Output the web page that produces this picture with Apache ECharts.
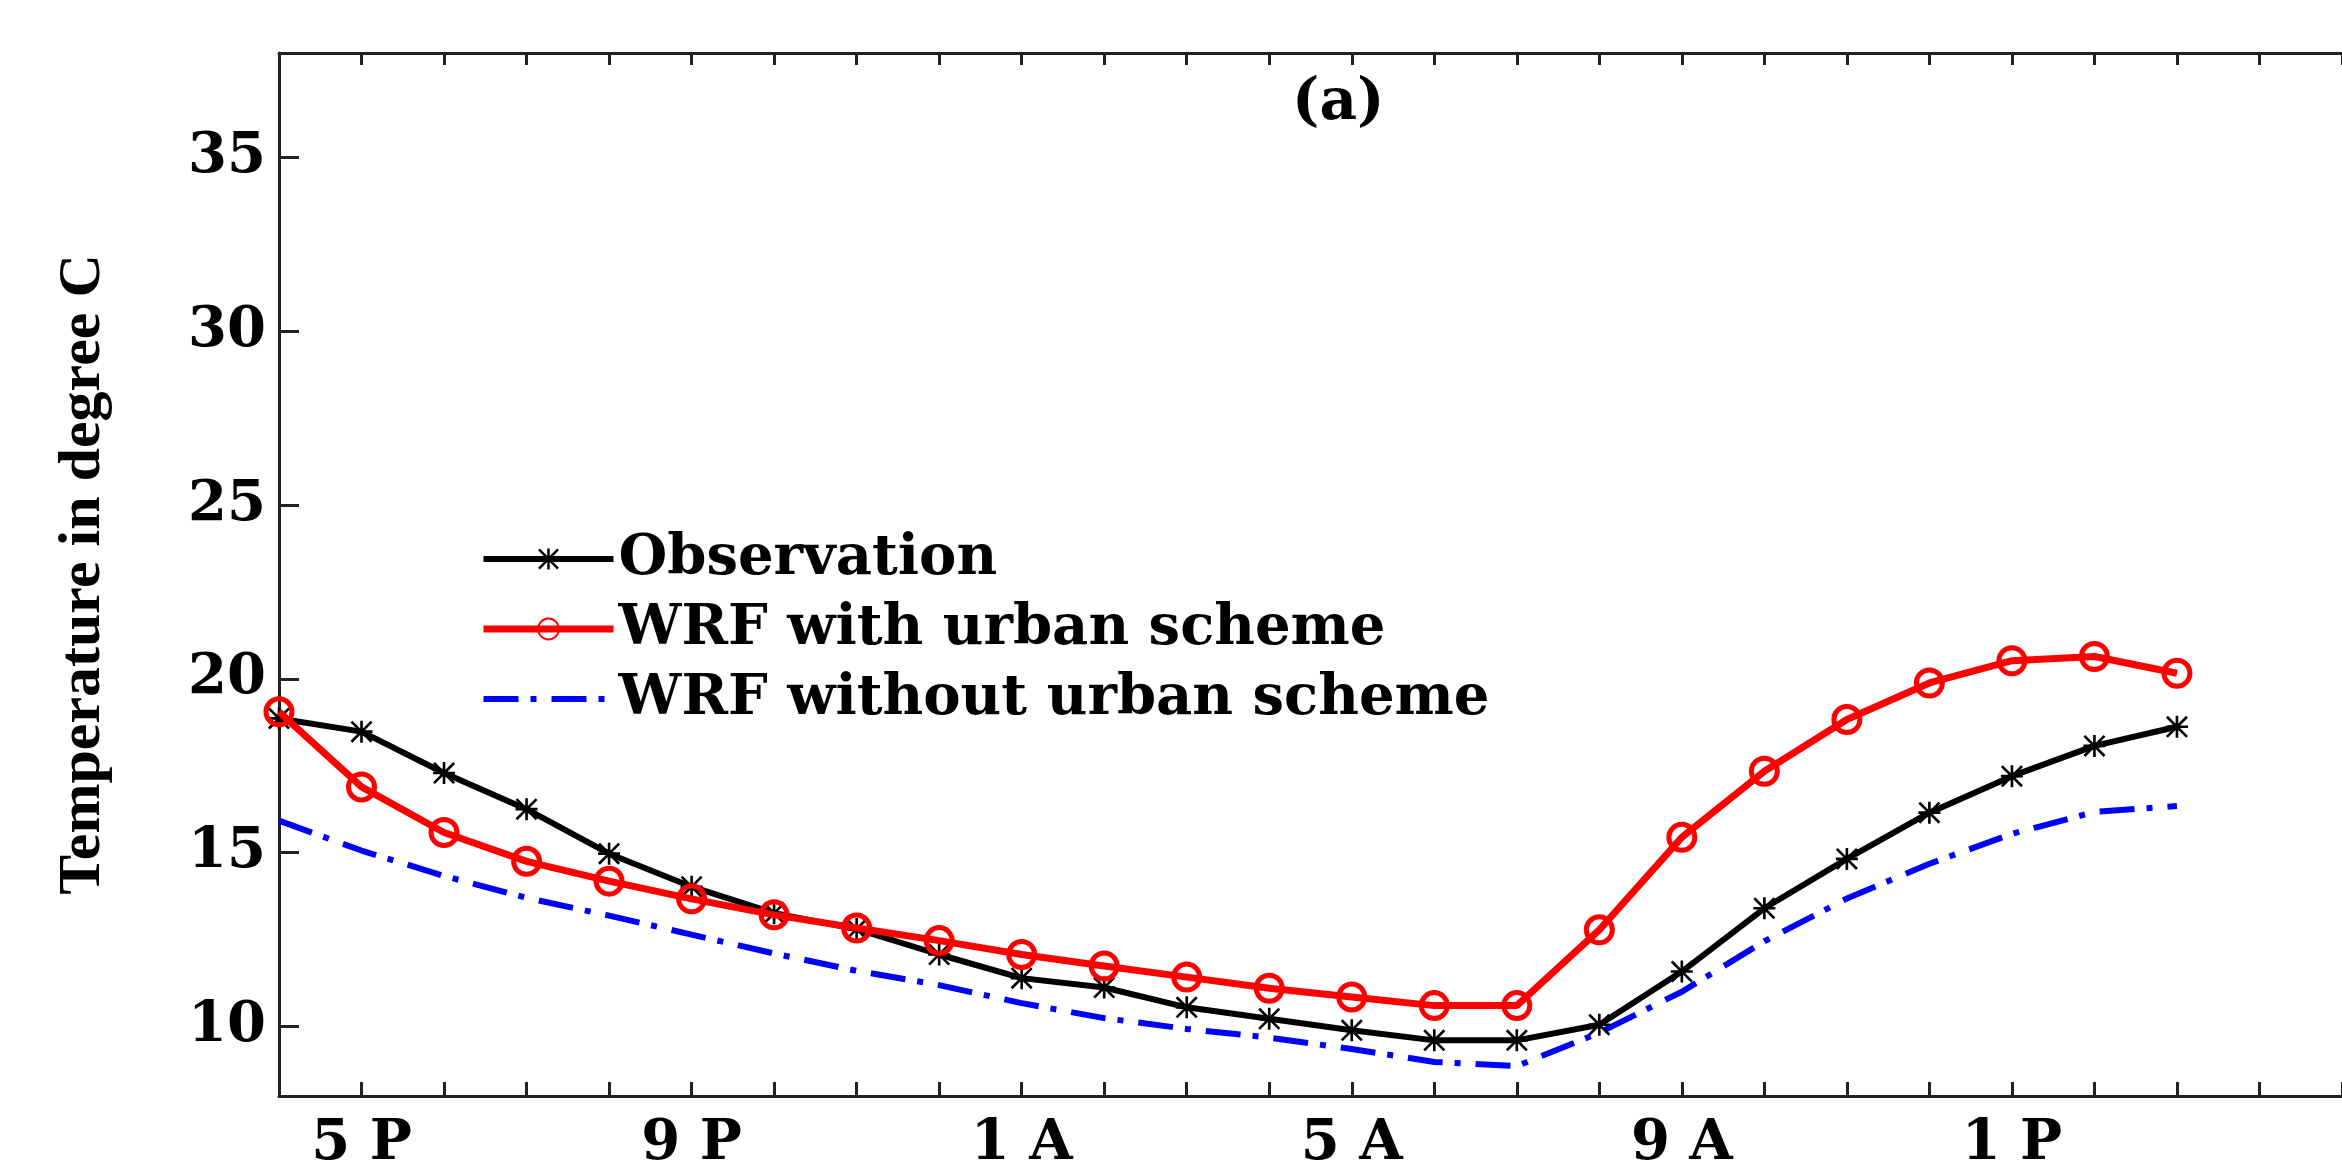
<!DOCTYPE html>
<html>
<head>
<meta charset="utf-8">
<script src="https://cdn.jsdelivr.net/npm/echarts@6/dist/echarts.min.js"></script>
<style>
  html, body { margin: 0; padding: 0; background: #fff; }
  #chart { width: 2342px; height: 1172px; }
</style>
</head>
<body>
<div id="chart"></div>
<script>
// Hour categories (index 0 = 4 PM)
const hours = ['4 P','5 P','6 P','7 P','8 P','9 P','10 P','11 P','12 A','1 A','2 A','3 A','4 A',
               '5 A','6 A','7 A','8 A','9 A','10 A','11 A','12 P','1 P','2 P','3 P','4 P','5 P'];
const shownHourLabels = ['5 P','9 P','1 A','5 A','9 A','1 P'];
const yTicks = [10, 15, 20, 25, 30, 35];

const observation = [18.86, 18.48, 17.29, 16.25, 14.97, 14.02, 13.26, 12.8, 12.07, 11.39, 11.12, 10.55,
                     10.22, 9.89, 9.6, 9.6, 10.05, 11.58, 13.4, 14.82, 16.15, 17.2, 18.07, 18.62];
const wrfUrban    = [19.05, 16.89, 15.58, 14.75, 14.18, 13.67, 13.21, 12.83, 12.47, 12.07, 11.74, 11.42,
                     11.1, 10.85, 10.6, 10.6, 12.78, 15.44, 17.34, 18.83, 19.88, 20.52, 20.64, 20.16];
const wrfNoUrban  = [15.92, 15.06, 14.33, 13.7, 13.19, 12.64, 12.1, 11.6, 11.19, 10.67, 10.24, 9.93,
                     9.68, 9.35, 8.98, 8.86, 9.82, 11.0, 12.45, 13.68, 14.68, 15.54, 16.17, 16.34];

const seriesNames = ['Observation', 'WRF with urban scheme', 'WRF without urban scheme'];

const chart = echarts.init(document.getElementById('chart'), null, { renderer: 'canvas' });
const serifBold = { fontFamily: 'DejaVu Serif', fontWeight: 'bold', color: '#000' };
const frame = { lineStyle: { color: '#222', width: 3 } };
const asterisk = 'path://M0 8.8L20 8.8L20 11.2L0 11.2ZM8.8 0L11.2 0L11.2 20L8.8 20ZM1.7 0L20 18.3L18.3 20L0 1.7ZM18.3 0L20 1.7L1.7 20L0 18.3Z';

chart.setOption({
  animation: false,
  backgroundColor: '#fff',
  title: {
    text: '(a)',
    left: 1287,
    top: 70,
    textStyle: Object.assign({ fontSize: 58 }, serifBold)
  },
  grid: { left: 279, top: 53, width: 2091, height: 1054 },
  legend: {
    orient: 'vertical',
    left: 475,
    top: 524,
    itemWidth: 130,
    itemHeight: 26,
    itemGap: 10,
    data: seriesNames,
    lineStyle: { width: 'inherit' },
    textStyle: Object.assign({ fontSize: 56, lineHeight: 60 }, serifBold)
  },
  xAxis: [
    {
      type: 'category',
      data: hours,
      boundaryGap: false,
      position: 'bottom',
      axisLine: frame,
      axisTick: { inside: true, length: 14, interval: 0, lineStyle: { color: '#222', width: 3 } },
      axisLabel: Object.assign({
        fontSize: 56,
        margin: 20,
        interval: function (idx, val) { return idx < 24 && shownHourLabels.indexOf(val) >= 0 && (idx - 1) % 4 === 0; }
      }, serifBold),
      splitLine: { show: false }
    },
    {
      type: 'category',
      data: hours,
      boundaryGap: false,
      position: 'top',
      axisLine: frame,
      axisTick: { inside: true, length: 12, interval: 0, lineStyle: { color: '#222', width: 3 } },
      axisLabel: { show: false },
      splitLine: { show: false }
    }
  ],
  yAxis: {
    type: 'value',
    min: 8,
    max: 38,
    name: 'Temperature in degree C',
    nameLocation: 'middle',
    nameRotate: 90,
    nameGap: 166,
    nameTextStyle: { fontFamily: 'Liberation Serif', fontWeight: 'bold', fontSize: 60, color: '#000' },
    axisLine: Object.assign({ show: true }, frame),
    axisTick: { show: true, inside: true, length: 20, customValues: yTicks, lineStyle: { color: '#222', width: 3 } },
    axisLabel: Object.assign({ fontSize: 56, margin: 13, customValues: yTicks }, serifBold),
    splitLine: { show: false }
  },
  series: [
    {
      name: seriesNames[0],
      type: 'line',
      data: observation,
      z: 3,
      symbol: asterisk,
      symbolSize: 22,
      color: '#000',
      itemStyle: { color: '#000' },
      lineStyle: { color: '#000', width: 6 }
    },
    {
      name: seriesNames[1],
      type: 'line',
      data: wrfUrban,
      z: 4,
      symbol: 'circle',
      symbolSize: 26,
      color: '#ff0000',
      itemStyle: { color: 'rgba(0,0,0,0)', borderColor: '#ff0000', borderWidth: 5 },
      lineStyle: { color: '#ff0000', width: 7 }
    },
    {
      name: seriesNames[2],
      type: 'line',
      data: wrfNoUrban,
      z: 2,
      symbol: 'circle',
      showSymbol: false,
      color: '#0000ff',
      itemStyle: { color: 'rgba(0,0,0,0)', borderWidth: 0 },
      lineStyle: { color: '#0000ff', width: 6, type: [35, 12, 6, 15] }
    }
  ]
});
</script>
</body>
</html>
